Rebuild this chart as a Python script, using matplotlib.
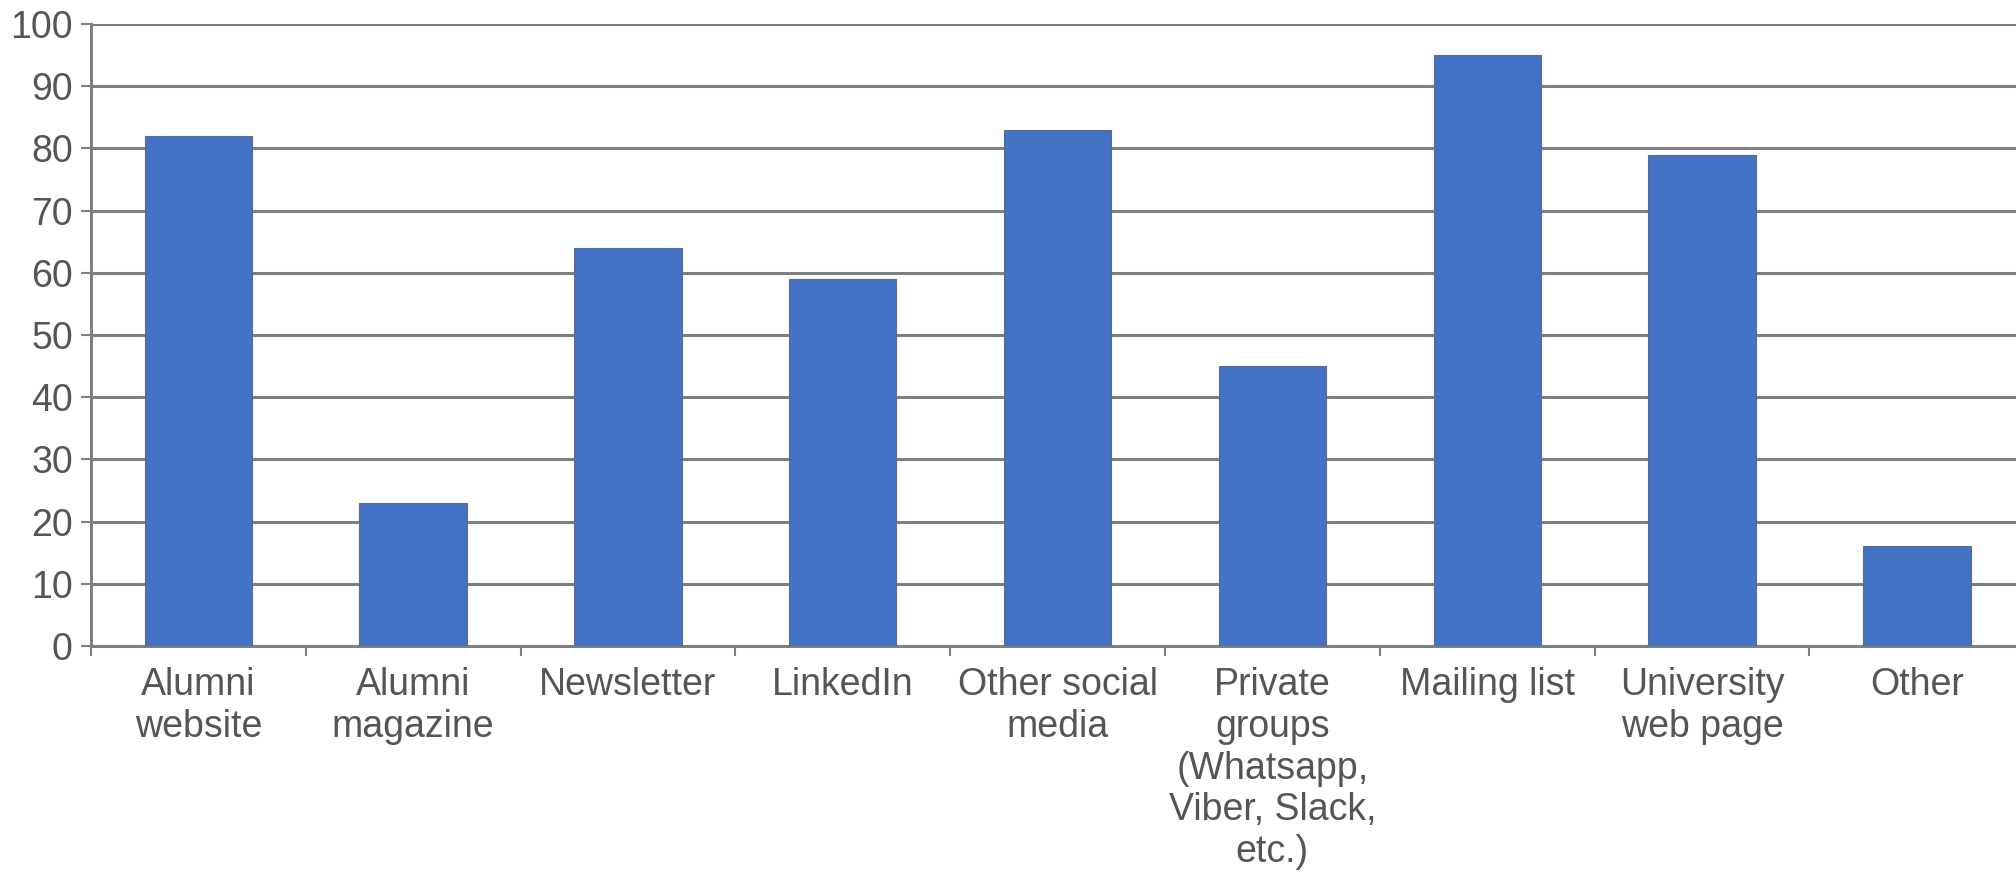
import matplotlib.pyplot as plt
import numpy as np

plt.rcParams['font.family'] = ['Liberation Sans', 'DejaVu Sans']

categories = [
    "Alumni\nwebsite",
    "Alumni\nmagazine",
    "Newsletter",
    "LinkedIn",
    "Other social\nmedia",
    "Private\ngroups\n(Whatsapp,\nViber, Slack,\netc.)",
    "Mailing list",
    "University\nweb page",
    "Other",
]
values = [82, 23, 64, 59, 83, 45, 95, 79, 16]
y_ticks = list(range(0, 101, 10))

text_color = "#555555"
line_color = "#7f7f7f"

fig = plt.figure(figsize=(20.16, 8.73), dpi=100)
ax = fig.add_axes([0.0451, 0.26, 0.959, 0.7125])

x = np.arange(len(categories))
ax.bar(x, values, width=0.5, color="#4472C4", edgecolor="#5b6b8c",
       linewidth=0.8, zorder=3)

ax.set_xlim(-0.5, len(categories) - 0.5)
ax.set_ylim(0, 100)

# horizontal gridlines at every y tick
ax.set_yticks(y_ticks)
ax.yaxis.grid(True, color=line_color, linewidth=2.2, zorder=0)
ax.set_axisbelow(True)

# tick marks between categories, labels under category centres
ax.set_xticks(np.arange(-0.5, len(categories), 1.0))
ax.set_xticklabels([])
ax.set_xticks(x, minor=True)
ax.set_xticklabels(categories, minor=True, linespacing=1.21)

ax.tick_params(axis="x", which="major", direction="out", length=7,
               width=1.5, color=line_color)
ax.tick_params(axis="x", which="minor", length=0, pad=15,
               labelsize=27, labelcolor=text_color)
ax.tick_params(axis="y", direction="out", length=7, width=1.5,
               color=line_color, pad=6, labelsize=27, labelcolor=text_color)

for side in ("top", "right"):
    ax.spines[side].set_visible(False)
for side in ("left", "bottom"):
    ax.spines[side].set_color(line_color)
    ax.spines[side].set_linewidth(2.2)

fig.savefig("out.png", dpi=100, facecolor="white")
